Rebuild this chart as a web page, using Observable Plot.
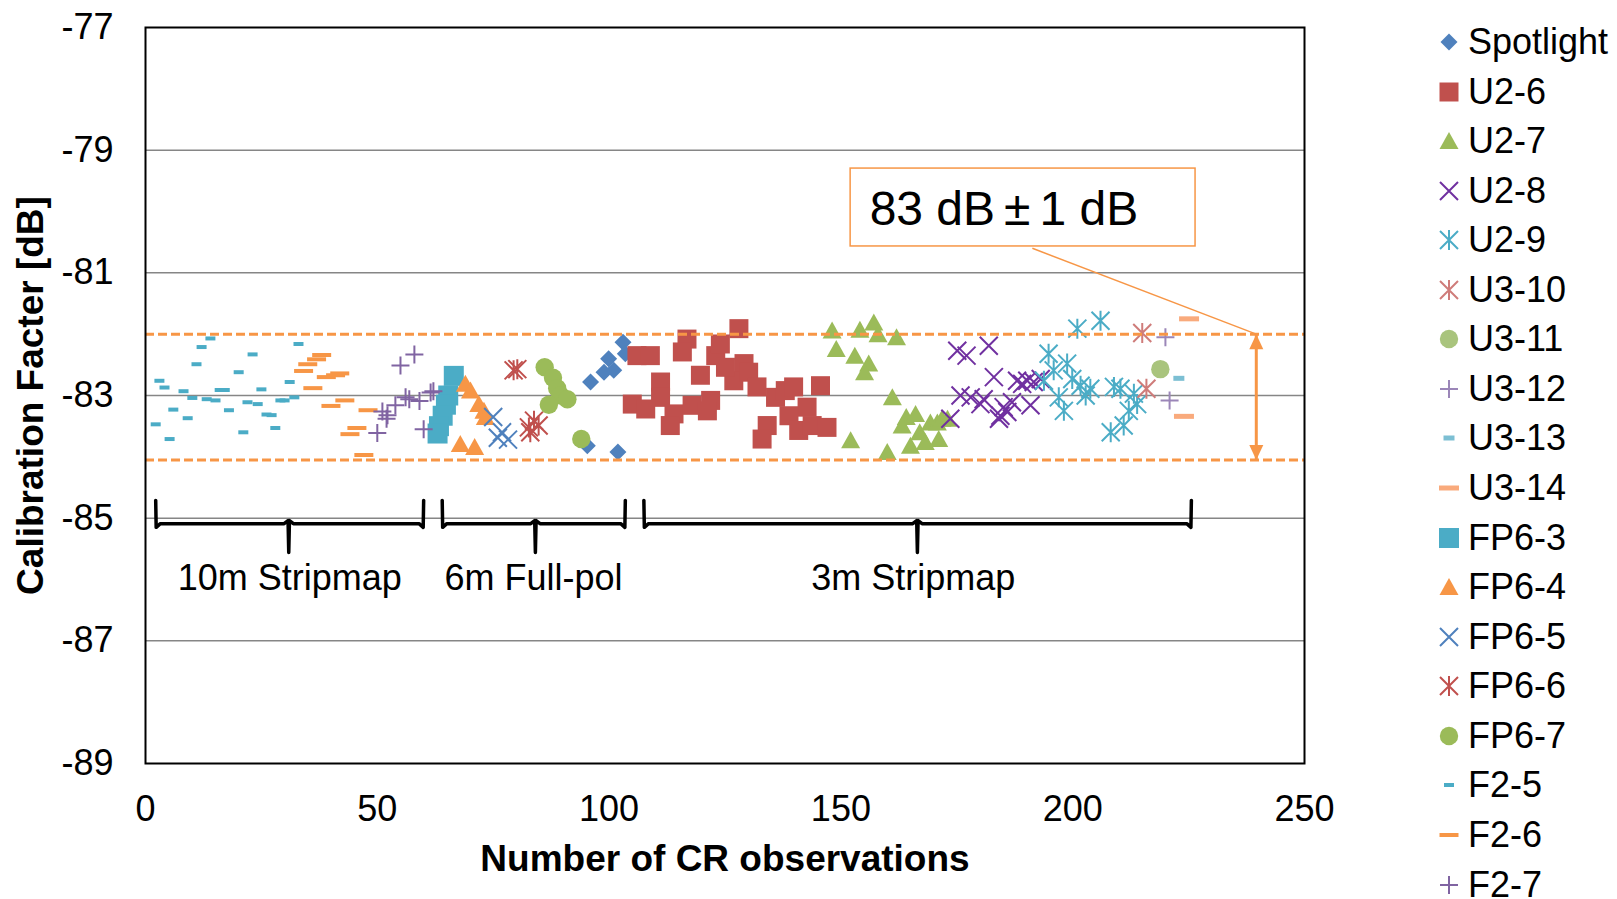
<!DOCTYPE html>
<html>
<head>
<meta charset="utf-8">
<script src="https://cdn.jsdelivr.net/npm/d3@7"></script>
<script src="https://cdn.jsdelivr.net/npm/@observablehq/plot@0.6"></script>
<style>
  html, body { margin: 0; padding: 0; background: #fff; overflow: hidden; }
  #wrap { position: relative; width: 1617px; height: 899px; font-family: "Liberation Sans", Arial, sans-serif; }
  #legend { position: absolute; left: 0; top: 0; }
  .lg { position: absolute; display: flex; align-items: center; height: 50px; font-size: 36px; line-height: 50px; color: #000; white-space: nowrap; }
  .lg svg { position: absolute; }
</style>
</head>
<body>
<div id="wrap"><div id="chart"></div><div id="legend"></div></div>
<script>
// ---------- data: [observation index, calibration factor dB] ----------
const spotlight = [[96.0,-82.78],[98.9,-82.62],[99.9,-82.40],[101.0,-82.59],[103.0,-82.13],[103.5,-82.32],[95.3,-83.82],[101.9,-83.92]];
const u2_6 = [[106.0,-82.35],[108.9,-82.35],[116.8,-82.08],[115.8,-82.29],[123.0,-82.35],[119.7,-82.67],[111.1,-82.78],[111.1,-83.03],[105.0,-83.14],[107.9,-83.22],[114.0,-83.30],[113.2,-83.49],[117.9,-83.16],[121.9,-83.08],[121.2,-83.25],[128.0,-81.91],[124.0,-82.16],[129.1,-82.48],[126.9,-82.76],[125.1,-82.54],[130.1,-82.62],[131.9,-82.86],[135.9,-83.03],[138.0,-82.92],[139.8,-82.86],[145.6,-82.84],[142.7,-83.19],[138.8,-83.33],[134.1,-83.49],[133.0,-83.71],[140.9,-83.57],[143.8,-83.49],[147.0,-83.52]];
const u2_7 = [[148.1,-81.94],[149.0,-82.24],[154.1,-81.93],[157.1,-81.81],[158.0,-82.0],[162.0,-82.05],[153.0,-82.35],[156.0,-82.48],[155.1,-82.62],[161.1,-83.03],[152.1,-83.73],[160.0,-83.92],[164.1,-83.35],[166.1,-83.30],[163.2,-83.49],[165.0,-83.82],[167.0,-83.60],[168.2,-83.76],[169.3,-83.44],[170.8,-83.44],[171.8,-83.38],[171.1,-83.71],[173.0,-83.38]];
const u2_8 = [[175.1,-82.27],[177.1,-82.35],[181.9,-82.19],[183.0,-82.70],[188.0,-82.76],[189.1,-82.81],[190.2,-82.76],[191.6,-82.78],[193.1,-82.73],[175.8,-83.0],[178.0,-83.03],[180.1,-83.14],[180.8,-83.06],[185.1,-83.19],[186.9,-83.11],[190.9,-83.16],[184.4,-83.33],[185.9,-83.27],[184.1,-83.38],[173.6,-83.38]];
const u2_9 = [[201.0,-81.91],[206.0,-81.78],[194.8,-82.32],[195.9,-82.59],[198.8,-82.48],[193.8,-82.76],[199.9,-82.73],[201.7,-82.84],[203.8,-82.89],[197.0,-83.03],[202.8,-83.0],[208.9,-82.86],[210.3,-82.89],[198.1,-83.25],[213.2,-82.97],[213.9,-83.14],[212.1,-83.25],[211.0,-83.49],[208.2,-83.60]];
const u3_10 = [[215.0,-81.98],[215.9,-82.89]];
const u3_11 = [[218.9,-82.57]];
const u3_12 = [[220.0,-82.05],[220.9,-83.08]];
const u3_13 = [[222.9,-82.72]];
const u3_14 = [[225.1,-81.75],[224.0,-83.34]];
const fp6_3 = [[66.5,-82.68],[65.3,-83.0],[64.8,-83.15],[64.1,-83.33],[63.3,-83.5],[63.0,-83.62]];
const fp6_4 = [[69.0,-82.81],[70.1,-82.92],[71.9,-83.14],[73.0,-83.25],[73.3,-83.35],[67.9,-83.79],[71.0,-83.84]];
const fp6_5 = [[75.0,-83.35],[76.9,-83.60],[76.0,-83.69],[78.2,-83.72]];
const fp6_6 = [[79.4,-82.59],[80.2,-82.57],[83.8,-83.41],[84.8,-83.49],[82.7,-83.52],[83.0,-83.60]];
const fp6_7 = [[86.1,-82.54],[87.9,-82.71],[88.8,-82.88],[89.5,-83.0],[91.0,-83.06],[87.0,-83.15],[94.0,-83.71]];
const f2_5 = [[3.0,-82.76],[4.1,-82.87],[2.2,-83.47],[5.2,-83.71],[6.0,-83.23],[8.2,-82.93],[10.1,-83.04],[9.1,-83.37],[11.0,-82.49],[12.1,-82.21],[14.0,-82.07],[13.2,-83.06],[15.1,-83.08],[16.0,-82.91],[17.1,-82.91],[18.0,-83.24],[20.1,-82.62],[21.1,-83.60],[22.0,-83.11],[23.1,-82.33],[24.2,-83.14],[25.0,-82.90],[26.1,-83.31],[27.2,-83.32],[28.0,-83.53],[29.1,-83.08],[30.0,-83.08],[31.1,-82.78],[32.1,-83.03],[33.0,-82.16]];
const f2_6 = [[38.0,-82.34],[36.9,-82.41],[35.0,-82.49],[34.1,-82.60],[39.0,-82.70],[41.0,-82.67],[41.9,-82.64],[36.1,-82.88],[43.0,-83.08],[40.0,-83.17],[48.0,-83.24],[45.6,-83.53],[44.1,-83.63],[47.1,-83.97]];
const f2_7 = [[58.0,-82.33],[55.0,-82.51],[56.1,-83.03],[53.9,-83.16],[51.1,-83.26],[52.2,-83.32],[52.0,-83.38],[50.0,-83.61],[60.0,-83.55],[56.9,-83.06],[59.1,-83.09],[61.5,-82.95],[62.1,-82.93]];

const seriesNames = ["Spotlight","U2-6","U2-7","U2-8","U2-9","U3-10","U3-11","U3-12","U3-13","U3-14","FP6-3","FP6-4","FP6-5","FP6-6","FP6-7","F2-5","F2-6","F2-7"];
const xTicks = [0, 50, 100, 150, 200, 250];
const yTicks = [-89, -87, -85, -83, -81, -79, -77];
const gridTicks = [-87, -85, -83, -81, -79];
const bandLimits = [-82, -84.05];
const annotParts = ["83 dB", "±", "1 dB"];
const annotBox = {x1: 152.1, x2: 226.5, y1: -79.30, y2: -80.57, tx: 156.2, ty: -79.97};
const leader = {x1: 191.3, y1: -80.60, x2: 239.6, y2: -82};
const arrowX = 239.6;
const braces = [
  {label: "10m Stripmap", x1: 2.2, x2: 60.0, tip: 30.9, lx: 31.1},
  {label: "6m Full-pol", x1: 64.0, x2: 103.5, tip: 84.1, lx: 83.7},
  {label: "3m Stripmap", x1: 107.5, x2: 225.6, tip: 166.5, lx: 165.6}
];
const braceY = {top: -84.71, mid: -85.09, tip: -85.56, label: -85.98};

// ---------- symbols (pixel geometry) ----------
const sq = (h) => ({draw(c) { c.moveTo(-h,-h); c.lineTo(h,-h); c.lineTo(h,h); c.lineTo(-h,h); c.closePath(); }});
const rectSym = (w, h) => ({draw(c) { c.moveTo(-w/2,-h/2); c.lineTo(w/2,-h/2); c.lineTo(w/2,h/2); c.lineTo(-w/2,h/2); c.closePath(); }});
const diamond = {draw(c) { const h = 8.5; c.moveTo(0,-h); c.lineTo(h,0); c.lineTo(0,h); c.lineTo(-h,0); c.closePath(); }};
const triangle = {draw(c) { c.moveTo(0,-9); c.lineTo(9.5,8); c.lineTo(-9.5,8); c.closePath(); }};
const times = {draw(c) { const h = 9; c.moveTo(-h,-h); c.lineTo(h,h); c.moveTo(h,-h); c.lineTo(-h,h); }};
const star = {draw(c) { const h = 9; c.moveTo(-h,-h); c.lineTo(h,h); c.moveTo(h,-h); c.lineTo(-h,h); c.moveTo(0,-h-1); c.lineTo(0,h+1); }};
const plus = {draw(c) { const h = 9; c.moveTo(-h,0); c.lineTo(h,0); c.moveTo(0,-h); c.lineTo(0,h); }};
const circle = {draw(c) { const r = 9.2; c.moveTo(r,0); c.arc(0,0,r,0,2*Math.PI); }};
const headUp = {draw(c) { c.moveTo(0,0); c.lineTo(7,15); c.lineTo(-7,15); c.closePath(); }};
const headDown = {draw(c) { c.moveTo(0,0); c.lineTo(7,-15); c.lineTo(-7,-15); c.closePath(); }};

const styles = [
  {data: spotlight, sym: diamond, fill: "#4F81BD"},
  {data: u2_6, sym: sq(9.5), fill: "#C0504D"},
  {data: u2_7, sym: triangle, fill: "#9BBB59"},
  {data: u2_8, sym: times, stroke: "#7030A0"},
  {data: u2_9, sym: star, stroke: "#4BACC6"},
  {data: u3_10, sym: star, stroke: "#CF7C7A"},
  {data: u3_11, sym: circle, fill: "#A9C47D"},
  {data: u3_12, sym: plus, stroke: "#9B86B8"},
  {data: u3_13, sym: rectSym(11, 5), fill: "#7CBFD3"},
  {data: u3_14, sym: rectSym(20, 5), fill: "#F9AA7C"},
  {data: fp6_3, sym: sq(10), fill: "#4BACC6"},
  {data: fp6_4, sym: triangle, fill: "#F79646"},
  {data: fp6_5, sym: times, stroke: "#4F81BD"},
  {data: fp6_6, sym: star, stroke: "#C0504D"},
  {data: fp6_7, sym: circle, fill: "#9BBB59"},
  {data: f2_5, sym: rectSym(10, 4), fill: "#4BACC6"},
  {data: f2_6, sym: rectSym(19, 4), fill: "#F79646"},
  {data: f2_7, sym: plus, stroke: "#8064A2"}
];

const ORANGE = "#F79646";
const braceLines = braces.map(b => ({label: b.label, pts: [
  [b.x1, braceY.top], [b.x1 + 0.1, braceY.mid - 0.06], [b.x1 + 1.0, braceY.mid], [b.tip - 1.0, braceY.mid],
  [b.tip - 0.15, braceY.mid + 0.05], [b.tip, braceY.tip], [b.tip + 0.15, braceY.mid + 0.05],
  [b.tip + 1.0, braceY.mid], [b.x2 - 1.0, braceY.mid], [b.x2 - 0.1, braceY.mid - 0.06], [b.x2, braceY.top]
]}));

const FONT = "'Liberation Sans', Arial, sans-serif";

const chart = Plot.plot({
  width: 1617, height: 899,
  marginLeft: 145, marginRight: 313, marginTop: 27, marginBottom: 136,
  style: {fontFamily: FONT, fontSize: "36px", background: "white", color: "black"},
  x: {domain: [0, 250]},
  y: {domain: [-89, -77]},
  marks: [
    Plot.gridY(gridTicks, {stroke: "#868686", strokeOpacity: 1, strokeWidth: 1.5}),
    Plot.axisY({ticks: yTicks, tickSize: 0, tickPadding: 32, fontSize: 36, label: null, tickFormat: d => String(d)}),
    Plot.axisX({ticks: xTicks, tickSize: 0, tickPadding: 32, fontSize: 36, label: null, tickFormat: d => String(d)}),
    ...styles.map(s => Plot.dot(s.data, {
      x: d => d[0], y: d => d[1], symbol: s.sym,
      fill: s.fill || "none", stroke: s.stroke || "none", strokeWidth: s.stroke ? 2 : 0
    })),
    Plot.ruleY(bandLimits, {stroke: ORANGE, strokeWidth: 3, strokeDasharray: "9,4"}),
    Plot.frame({stroke: "black", strokeWidth: 2}),
    Plot.link([leader], {x1: "x1", y1: "y1", x2: "x2", y2: "y2", stroke: ORANGE, strokeWidth: 1.5}),
    Plot.rect([annotBox], {x1: "x1", x2: "x2", y1: "y1", y2: "y2", fill: "white", stroke: ORANGE, strokeWidth: 1.5}),
    Plot.text([annotBox], {x: "tx", y: "ty", text: () => annotParts.join(""), textAnchor: "start", fontSize: 48, fill: "black", className: "annot"}),
    Plot.link([{x: arrowX, y1: bandLimits[0], y2: bandLimits[1]}], {x1: "x", x2: "x", y1: "y1", y2: "y2", stroke: ORANGE, strokeWidth: 3}),
    Plot.dot([{x: arrowX, y: bandLimits[0]}], {x: "x", y: "y", symbol: headUp, fill: ORANGE, stroke: "none"}),
    Plot.dot([{x: arrowX, y: bandLimits[1]}], {x: "x", y: "y", symbol: headDown, fill: ORANGE, stroke: "none"}),
    ...braceLines.map(b => Plot.line(b.pts, {x: d => d[0], y: d => d[1], stroke: "black", strokeWidth: 3.5, strokeLinejoin: "round", strokeLinecap: "round", curve: "linear"})),
    Plot.text(braces, {x: "lx", y: () => braceY.label, text: "label", fontSize: 36, fill: "black"}),
    Plot.text(["Number of CR observations"], {frameAnchor: "bottom", dy: 107, text: d => d, fontSize: 37, fontWeight: "bold", fill: "black"}),
    Plot.text(["Calibration Facter [dB]"], {frameAnchor: "left", textAnchor: "middle", dx: -114, rotate: -90, text: d => d, fontSize: 37, fontWeight: "bold", fill: "black"})
  ]
});
document.getElementById("chart").appendChild(chart);

// widen the ± like the original's full-width glyph
d3.select(chart).selectAll("g.annot text").each(function() {
  const t = d3.select(this);
  t.text(null);
  t.append("tspan").text(annotParts[0]);
  t.append("tspan").attr("dx", 9).text(annotParts[1]);
  t.append("tspan").attr("dx", 9).text(annotParts[2]);
});

// ---------- legend ----------
const legend = d3.select("#legend");
seriesNames.forEach((name, i) => {
  const s = styles[i];
  const cy = 42 + i * 49.56;
  const row = legend.append("div").attr("class", "lg").style("left", "1430px").style("top", (cy - 25) + "px");
  const p = d3.path(); s.sym.draw(p, 0);
  const svg = row.append("svg").attr("width", 40).attr("height", 40).style("left", "-1px").style("top", "5px");
  svg.append("path").attr("transform", "translate(20,20)").attr("d", p.toString())
    .attr("fill", s.fill || "none").attr("stroke", s.stroke || "none").attr("stroke-width", s.stroke ? 2 : 0);
  row.append("span").style("margin-left", "38px").text(name);
});
</script>
</body>
</html>
